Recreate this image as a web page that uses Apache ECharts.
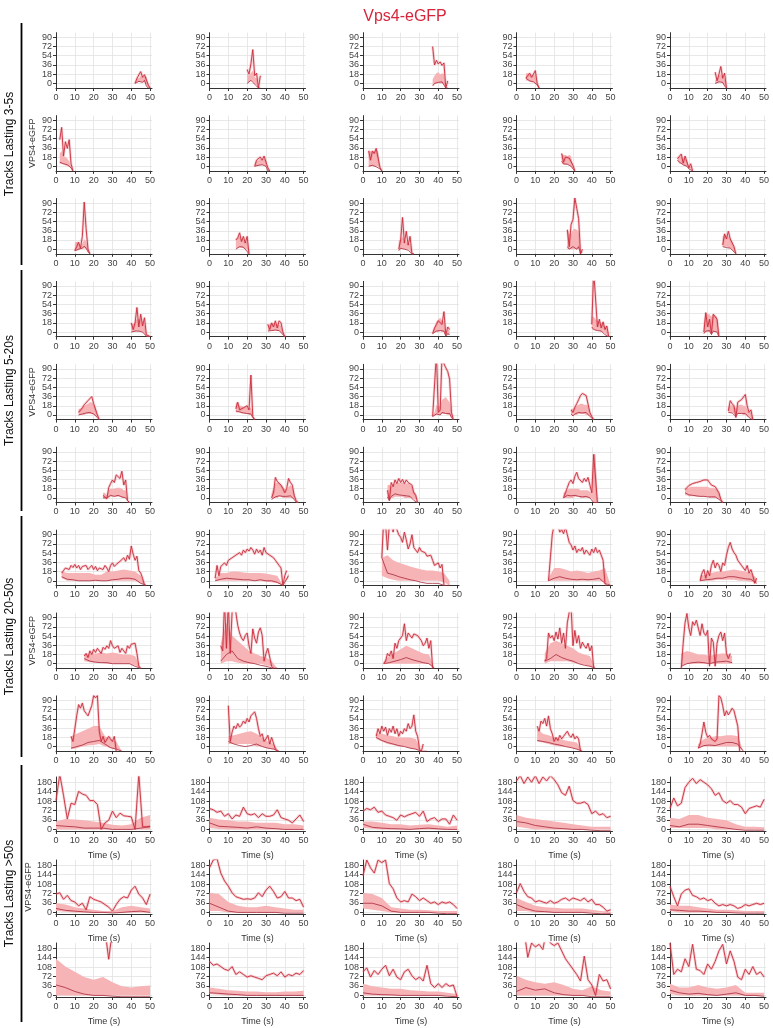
<!DOCTYPE html>
<html>
<head>
<meta charset="utf-8">
<script src="https://cdn.jsdelivr.net/npm/echarts@6/dist/echarts.min.js"></script>
<style>
html, body { margin: 0; padding: 0; background: #fff; }
#chart { width: 773px; height: 1028px; }
</style>
</head>
<body>
<div id="chart"></div>
<script>
// one entry per panel, row by row (5 panels a row, 12 rows)
var trackStart = [
	42, 20, 37, 5, 24,
	2, 24, 3, 24, 4,
	10, 14, 19, 27, 28,
	40, 31, 37, 40, 18,
	12, 14, 37, 29, 31,
	25, 33, 13, 25, 8,
	3, 3, 10, 17, 16,
	15, 6, 11, 15, 6,
	8, 10, 7, 11, 15,
	0, 0, 0, 0, 0,
	0, 0, 0, 0, 0,
	0, 0, 0, 0, 0
];
// sampling interval (s) per row group: red trace, band + low trace
var redStep = [1, 1, 1, 2];
var bandStep = [1, 1, 3, 5];

var redTrace = [
	[0,10,10,23,12,17,20,-3,-9],
	[27,18,38,66,15,20,-9,15],
	[72,36,45,38,42,35,40,-9,5],
	[10,15,20,12,18,25,0,-9],
	[22,5,18,33,10,20,-9],
	[52,76,20,48,35,52,5,-9],
	[0,12,15,18,12,20,22,-3,-9],
	[30,12,30,25,35,33,-2,-9],
	[25,8,18,15,16,18,2,-9],
	[15,12,24,6,20,20,-3,5,-9],
	[-3,5,14,2,25,92,40,0,-9],
	[18,22,32,15,25,12,25,-9],
	[0,18,62,12,35,8,25,-9,-9],
	[38,5,48,58,100,80,60,-9,0],
	[8,30,20,35,20,22,5,-9],
	[18,5,18,48,10,35,12,28,-5,-5,-9],
	[15,5,18,10,22,8,22,18,0,-9],
	[-3,8,15,22,25,15,40,-5,10,5],
	[15,120,120,10,25,8,20,5,12,-9],
	[0,38,10,25,-3,35,30,25,-9],
	[5,2,14,20,18,28,30,36,22,20,0,-9],
	[12,25,10,12,14,12,18,10,78,-3,-9],
	[-3,0,120,5,10,120,100,92,85,70,5,-9],
	[10,5,15,22,30,38,42,40,38,36,5,-3,-9],
	[8,28,22,18,-5,25,22,30,28,40,18,5,10,-9],
	[5,8,-2,20,28,35,30,45,48,38,52,25,35,-5,-9],
	[0,10,40,32,30,25,18,10,18,38,30,25,5,-5,-9],
	[15,-5,30,22,35,28,38,30,36,28,35,30,32,25,10,5,-9],
	[0,10,20,30,35,28,42,50,38,35,30,38,32,40,25,10,85,85,-9],
	[16,20,24,22,28,25,30,28,32,30,35,33,35,30,25,28,22,25,10,-3,-9],
	[15,20,25,28,22,30,26,32,25,30,22,28,25,30,22,26,30,22,28,20,25,28,22,30,25,18,30,35,28,32,30,38,35,45,38,50,42,68,52,40,48,20,15,5,-9],
	[5,30,10,28,25,35,30,40,38,45,42,50,48,55,50,60,55,62,58,65,60,52,62,55,60,50,65,55,58,50,52,45,40,42,30,25,-9,10,20],
	[45,120,110,60,110,120,95,120,100,90,85,75,95,80,62,72,90,65,60,55,65,58,60,55,48,45,50,40,30,28,35,25,32,-9],
	[0,45,90,110,105,110,95,100,92,105,90,75,70,60,68,55,62,58,65,52,60,55,50,62,55,65,55,60,50,40,-5,-9],
	[0,15,22,5,20,10,30,40,25,35,30,18,35,30,50,65,75,62,55,50,40,35,30,25,20,30,15,22,10,-5,5],
	[15,20,12,25,18,28,22,30,25,20,32,28,35,30,45,35,30,28,35,22,30,25,20,35,30,38,35,40,20,-5,-9],
	[35,25,120,30,120,20,100,110,100,75,60,50,45,55,60,35,20,68,50,40,62,70,55,5,20,30,28,-5,-9],
	[0,5,20,15,25,10,40,30,45,50,55,78,45,60,55,50,58,60,55,52,45,35,40,50,30,45,-9],
	[5,10,60,50,55,45,62,48,70,40,60,30,80,100,110,35,65,40,55,30,42,35,30,40,25,35,-9],
	[-9,40,80,98,70,55,82,75,85,70,55,78,60,55,65,-5,50,42,-5,40,55,62,45,60,20,10,20],
	[20,10,35,60,82,75,85,70,65,60,70,80,100,95,100,30,10,20,8,5,20,15,10,20,-9],
	[80,10,28,40,35,45,38,42,50,45,55,48,60,62,68,55,35,20,25,10,15,22,5,18,15,-5,-9],
	[20,35,25,40,30,38,22,35,28,40,25,35,20,30,25,35,30,45,35,40,62,30,20,-5,-9,5],
	[40,30,50,45,55,40,60,35,25,10,18,12,22,15,20,18,30,22,18,25,15,20,15,-9],
	[-3,5,25,48,28,18,22,15,18,10,15,100,95,80,60,70,62,68,75,70,72,40,-9],
	[110,210,130,40,100,95,145,135,130,110,110,95,0,25,35,70,45,62,52,50,48,0,210,10,10,12],
	[80,75,65,70,50,60,40,55,50,85,60,55,60,45,60,50,50,55,75,45,40,35,25,40,55,30],
	[70,80,75,85,65,70,55,50,45,35,55,48,55,60,65,50,70,30,40,45,30,40,40,20,55,35],
	[185,205,175,200,180,205,175,200,185,205,190,170,140,130,165,110,100,100,105,95,60,70,55,60,45,50],
	[80,120,90,100,160,180,195,175,190,180,170,155,130,140,110,100,110,95,95,85,60,80,85,90,85,115],
	[70,75,50,65,45,40,25,35,10,60,50,45,40,30,20,5,30,50,60,55,85,100,70,55,30,70],
	[170,200,205,150,120,100,75,60,55,50,52,50,55,75,60,85,100,80,55,60,80,55,55,45,50,20],
	[140,200,170,150,200,190,200,110,90,55,40,45,40,70,60,45,55,45,35,40,30,40,35,40,30,15],
	[75,110,80,60,55,40,45,40,35,45,35,40,50,55,45,55,50,45,55,40,50,30,30,20,5,10],
	[100,60,25,70,85,90,65,60,50,55,45,50,35,25,30,25,30,25,15,20,30,25,30,35,30,35],
	[250,250,250,250,250,250,250,250,250,250,250,250,250,250,138,250,250,250,250,250,250,250,250,250,250,250],
	[130,115,120,110,100,95,110,80,90,80,70,75,70,65,60,75,80,85,75,90,70,80,75,85,80,95],
	[90,105,70,95,80,100,115,75,100,70,60,90,100,75,60,70,55,115,45,30,45,30,45,35,40,-5],
	[250,250,250,145,200,185,195,175,250,200,190,200,170,140,120,100,80,55,150,60,40,0,80,55,60,25],
	[200,80,100,90,140,110,195,100,95,80,120,100,130,170,195,120,170,130,70,60,100,80,110,80,90,70]
];

var bandUpper = [
	[0,10,10,15,12,14,14,-3,-9],
	[20,15,20,25,12,10,-9,-9],
	[8,15,20,22,18,20,18,-9,-9],
	[20,20,18,16,18,15,0,-9],
	[5,10,15,18,12,10,-9],
	[25,30,20,18,15,10,0,-9],
	[0,10,12,15,12,15,12,-5,-9],
	[32,30,28,30,32,30,-2,-9],
	[25,22,22,20,22,20,0,-9],
	[18,18,20,15,15,12,0,0,-9],
	[14,14,12,5,10,20,15,0,-9],
	[20,22,25,20,20,15,15,-9],
	[18,18,25,18,15,10,10,-9,-9],
	[40,30,30,38,40,38,35,-9,-9],
	[25,28,25,25,20,15,5,-9],
	[18,15,20,25,25,25,20,15,-5,-5,-9],
	[15,15,18,18,18,15,15,12,0,-9],
	[0,8,20,25,28,22,20,-5,5,5],
	[30,30,25,22,20,18,15,12,10,-9],
	[15,38,35,35,30,35,32,30,-9],
	[12,12,15,18,20,22,25,25,20,15,0,-9],
	[25,22,18,18,15,15,15,12,15,-3,-9],
	[0,5,20,15,20,30,32,35,30,25,5,-9],
	[12,12,15,18,20,22,22,20,20,18,5,-3,-9],
	[15,18,20,18,12,18,20,20,18,18,12,5,5,-9],
	[10,10,5,15,18,18,18,20,20,20,18,15,15,-5,-9],
	[10,18,28,30,28,25,22,18,15,22,25,20,8,-5,-9],
	[25,25,22,25,28,28,30,28,30,28,28,28,25,22,12,10,-9],
	[10,12,15,18,18,18,18,18,18,15,15,15,15,15,12,10,85,85,-9],
	[18,20,20,22,22,22,22,22,22,22,22,22,22,20,20,20,18,18,10,0,-9],
	[18,15,15,15,15,15,12,12,18,18,20,22,20,18,10,-9],
	[5,15,15,18,18,16,15,15,15,14,12,10,-9,15],
	[45,50,40,35,32,28,25,22,20,20,18,15,0],
	[5,25,25,22,18,20,18,15,18,20,25,-9],
	[10,12,15,18,18,20,22,20,18,15,5],
	[18,20,20,22,20,22,20,18,18,15,-9],
	[40,80,55,45,35,25,20,15,12,5,-9],
	[5,15,22,28,35,30,25,20,18,-9],
	[20,40,45,40,35,30,22,18,15,-9],
	[20,25,22,18,18,15,18,20,20,15],
	[20,25,30,35,40,40,20,15,10,-9],
	[20,22,25,28,30,25,18,10,5,-9],
	[25,25,22,20,18,18,18,15,-9,-9],
	[35,25,22,18,15,12,10,8,-9],
	[5,15,18,20,20,22,22,20,-9],
	[30,40,38,35,30,25,18,15,20,45,55],
	[45,38,35,30,30,25,25,25,20,20,15],
	[30,30,25,20,20,15,18,20,15,10,15],
	[55,45,40,35,30,25,20,15,10,10,10],
	[45,40,55,55,45,40,35,20,10,10,8],
	[35,30,20,15,10,5,5,20,25,20,15],
	[75,70,40,25,20,20,25,20,15,10,10],
	[75,70,55,20,15,10,10,8,5,5,5],
	[55,40,25,20,18,15,15,15,10,5,3],
	[30,25,25,20,15,10,10,8,5,5,5],
	[140,110,90,70,60,70,50,35,30,35,38],
	[30,25,20,18,15,15,12,12,15,15,18],
	[45,35,30,25,25,20,18,15,15,10,5],
	[75,60,50,45,50,40,25,20,35,20,15],
	[45,30,30,40,30,25,30,40,10,10,10]
];

var bandLower = [
	[0,2,2,3,2,2,-2,-8,-9],
	[0,2,5,3,0,-3,-9,-9],
	[-4,-2,0,1,0,0,-2,-9,-9],
	[5,5,3,2,2,0,-5,-9],
	[0,0,2,2,0,-3,-9],
	[5,5,3,2,0,0,-5,-9],
	[0,0,0,2,2,2,0,-8,-9],
	[0,0,0,0,0,0,-5,-9],
	[5,3,3,3,3,0,-5,-9],
	[10,5,5,2,0,0,-5,-5,-9],
	[-3,-3,-2,0,0,2,0,-5,-9],
	[2,2,3,3,2,0,0,-9],
	[-2,0,2,0,0,0,-3,-9,-9],
	[0,0,0,0,0,0,0,-9,-9],
	[5,5,5,3,2,0,-5,-9],
	[0,0,0,2,0,2,0,-3,-8,-8,-9],
	[2,2,2,2,3,2,2,0,-5,-9],
	[-3,0,0,0,2,0,0,-8,-5,-5],
	[5,5,3,2,2,0,0,-3,-5,-9],
	[-3,0,0,0,-3,0,0,0,-9],
	[0,0,0,0,2,2,2,2,0,-2,-5,-9],
	[5,5,5,3,3,2,2,0,0,-5,-9],
	[-3,-2,0,0,0,2,2,2,0,0,-5,-9],
	[0,0,0,0,2,2,2,2,0,0,-3,-5,-9],
	[5,5,5,3,0,2,2,2,0,0,-3,-5,-5,-9],
	[0,0,0,0,2,2,2,2,2,2,0,0,0,-5,-9],
	[-3,0,0,0,2,2,0,0,0,0,0,0,-3,-8,-9],
	[0,-3,0,0,2,2,2,2,2,0,0,0,0,0,-3,-3,-9],
	[0,0,0,0,0,0,2,2,2,0,0,0,0,0,0,0,-9,-9,-9],
	[5,5,3,3,3,3,2,2,2,2,2,2,2,0,0,0,0,0,-3,-5,-9],
	[5,0,0,0,0,0,0,0,0,0,0,0,0,0,-5,-9],
	[0,0,0,0,0,0,0,0,0,-2,-3,-5,-9,5],
	[10,5,2,0,0,0,0,0,0,0,0,-3,-9],
	[0,0,0,0,0,0,0,0,0,0,-3,-9],
	[0,0,0,2,2,2,2,0,0,-2,-5],
	[5,3,2,2,0,0,0,0,0,-3,-9],
	[0,5,5,2,0,0,0,0,-3,-5,-9],
	[0,0,0,0,0,0,0,0,0,-9],
	[0,5,5,5,5,2,0,-2,-5,-9],
	[-5,0,0,0,0,0,0,0,0,0],
	[-5,-3,0,2,3,5,0,-3,-5,-9],
	[5,5,5,5,5,0,0,-3,-5,-9],
	[15,10,5,3,0,0,-3,-5,-9,-9],
	[10,8,5,2,0,0,-2,-5,-9],
	[-3,0,0,0,0,0,0,0,-9],
	[0,0,0,0,0,0,0,0,0,0,0],
	[5,2,0,0,0,0,0,0,0,0,0],
	[5,3,0,0,0,0,0,0,0,0,0],
	[10,5,0,0,0,0,0,0,0,0,0],
	[5,5,5,5,5,0,0,0,0,0,0],
	[5,3,0,0,0,0,0,0,0,0,0],
	[5,5,0,0,0,0,0,0,0,0,0],
	[15,10,5,0,0,0,0,0,0,-3,-3],
	[5,5,0,0,0,0,0,0,0,0,-5],
	[5,0,0,0,0,0,0,0,0,0,0],
	[0,0,0,0,0,0,0,0,0,0,0],
	[5,3,0,0,0,0,0,0,0,0,0],
	[0,0,0,0,0,0,0,0,0,0,-5],
	[0,0,0,0,0,0,0,0,0,0,0],
	[5,0,0,0,0,0,0,0,0,0,0]
];

var lowTrace = [
	[0,2,4,6,2,6,-5,-9,-9],
	[0,3,6,2,0,-5,-9,-9],
	[-5,0,3,2,0,3,0,-9,-9],
	[10,8,5,4,3,2,-3,-9],
	[0,2,3,4,2,-5,-9],
	[8,10,5,5,3,2,-3,-9],
	[0,2,2,3,3,2,0,-9,-9],
	[0,-2,2,0,-1,2,-5,-9],
	[10,5,3,4,5,0,-5,-9],
	[12,8,5,3,2,0,-5,-3,-9],
	[-3,-1,0,-2,2,6,2,-5,-9],
	[0,3,5,3,4,0,0,-9],
	[-3,2,5,0,3,-2,-5,-9,-9],
	[5,0,2,5,3,0,5,-9,-5],
	[5,5,3,4,2,0,-5,-9],
	[0,0,2,5,2,3,0,-2,-8,-8,-9],
	[2,3,3,2,4,3,3,0,-5,-9],
	[-3,0,2,0,3,0,2,-8,-3,-5],
	[10,5,5,3,5,2,0,-5,-5,-9],
	[-3,2,0,3,-5,2,0,0,-9],
	[0,-2,2,3,4,3,5,4,2,0,-5,-9],
	[8,8,6,5,4,3,3,2,2,-5,-9],
	[-3,-2,2,0,0,5,5,3,2,3,-5,-9],
	[2,-2,2,3,5,5,4,3,5,2,-3,-5,-9],
	[5,5,4,3,-3,3,4,3,2,3,0,-5,-3,-9],
	[0,2,0,2,5,4,3,4,5,3,2,4,0,-5,-9],
	[-3,0,2,3,4,5,3,2,3,2,4,2,-3,-8,-9],
	[2,-5,3,5,8,5,6,4,5,3,4,5,3,0,-5,-5,-9],
	[0,3,5,5,4,5,5,4,3,4,2,3,3,2,0,0,-9,-9,-9],
	[10,8,6,5,5,4,4,3,3,3,3,3,2,3,2,2,2,1,-3,-5,-9],
	[8,3,2,0,0,0,1,0,0,2,3,5,5,3,-5,-9],
	[0,3,5,4,3,2,2,0,2,0,0,-3,-9,10],
	[45,15,12,8,5,2,0,-3,-5,-5,-5,-9,-9],
	[0,5,8,5,3,2,3,2,3,5,-5,-9],
	[0,2,3,5,5,8,8,6,4,3,-5],
	[10,5,3,2,2,0,0,0,0,-5,-9],
	[5,18,25,10,5,2,0,-3,-5,-8,-9],
	[0,2,5,8,12,8,5,2,0,-9],
	[5,10,18,12,8,5,0,-3,-5,-9],
	[-5,0,2,3,2,0,3,4,5,2],
	[-3,0,3,8,10,12,5,-2,-5,-9],
	[10,5,2,0,2,5,0,-3,-5,-9],
	[18,12,8,5,2,0,-3,-5,-9,-9],
	[12,10,8,5,3,0,-2,-5,-9],
	[-3,2,3,2,5,8,8,5,-9],
	[15,12,10,5,5,5,0,0,0,5,10],
	[25,12,10,8,5,10,5,3,0,0,0],
	[20,8,5,3,2,0,3,5,2,0,0],
	[30,25,15,10,5,3,0,0,-3,-5,-5],
	[15,10,20,20,15,10,5,0,-3,-3,-3],
	[15,8,5,2,0,0,-2,0,3,5,0],
	[35,20,5,0,0,0,0,0,-3,-3,-3],
	[35,35,25,5,0,0,0,0,-3,-5,-5],
	[30,15,5,3,0,0,0,0,-3,-5,-5],
	[10,8,5,5,3,0,0,-2,-3,-3,-3],
	[40,30,15,5,0,0,-3,-5,-5,-5,-5],
	[10,8,5,3,0,0,0,0,0,0,0],
	[10,5,3,2,0,0,0,0,0,-3,-5],
	[15,30,20,25,10,3,0,0,-5,-5,-5],
	[20,10,5,8,3,0,5,10,0,0,-3]
];

var xTicks = [0, 10, 20, 30, 40, 50];
var yTicksShort = [0, 18, 36, 54, 72, 90];
var yTicksLong = [0, 36, 72, 108, 144, 180];
var groupLabels = ['Tracks Lasting 3-5s', 'Tracks Lasting 5-20s', 'Tracks Lasting 20-50s', 'Tracks Lasting >50s'];

var FONT = '"Liberation Sans", Arial, sans-serif';
var colLeft = [56, 209.5, 363, 516.5, 670];

function pairs(t0, step, vals) {
	var out = [];
	for (var i = 0; i < vals.length; i++) out.push([t0 + i * step, vals[i]]);
	return out;
}

// band drawn as one polygon through the panel's own axes
function bandRenderer(p, step) {
	return function (params, api) {
		if (params.dataIndex !== 0) return;
		var t0 = trackStart[p], pts = [], i;
		for (i = 0; i < bandUpper[p].length; i++) pts.push(api.coord([t0 + i * step, bandUpper[p][i]]));
		for (i = bandLower[p].length - 1; i >= 0; i--) pts.push(api.coord([t0 + i * step, bandLower[p][i]]));
		return { type: 'polygon', shape: { points: pts }, style: { fill: '#f6b4b7' } };
	};
}

function buildOption(useCustomTicks) {
	var grids = [], xAxes = [], yAxes = [], series = [];
	for (var p = 0; p < 60; p++) {
		var row = Math.floor(p / 5), col = p % 5, grp = Math.floor(row / 3);
		var big = grp === 3;
		var top = big ? 777 + 83 * (row - 9) : 32.7 + 82.9 * row;
		grids.push({ left: colLeft[col], top: top, width: 96, height: big ? 54 : 55.3 });

		var xa = {
			gridIndex: p, type: 'value', min: 0, max: 51,
			name: big ? 'Time (s)' : '', nameLocation: 'middle', nameGap: 20,
			nameTextStyle: { fontSize: 9, color: '#333', fontFamily: FONT },
			axisLine: { show: true, onZero: false, lineStyle: { color: '#333', width: 1 } },
			axisTick: { show: true, length: 3, lineStyle: { color: '#333' } },
			axisLabel: { fontSize: 9, color: '#444', margin: 5, fontFamily: FONT },
			splitLine: { show: true, lineStyle: { color: '#e2e2e2', width: 0.8 } }
		};
		var yt = big ? yTicksLong : yTicksShort;
		var ya = {
			gridIndex: p, type: 'value', min: big ? -6 : -9, max: big ? 200 : 99,
			name: (col === 0 && row % 3 === 1) ? 'VPS4-eGFP' : '', nameLocation: 'middle', nameGap: 19,
			nameTextStyle: { fontSize: 9, color: '#333', fontFamily: FONT },
			axisLine: { show: true, onZero: false, lineStyle: { color: '#333', width: 1 } },
			axisTick: { show: true, length: 3, lineStyle: { color: '#333' } },
			axisLabel: { fontSize: 9, color: '#444', margin: 4, fontFamily: FONT },
			splitLine: { show: true, lineStyle: { color: '#e2e2e2', width: 0.8 } }
		};
		if (useCustomTicks) {
			xa.axisTick.customValues = xTicks; xa.axisLabel.customValues = xTicks;
			ya.axisTick.customValues = yt; ya.axisLabel.customValues = yt;
		} else {
			xa.interval = 10; xa.axisLabel.showMaxLabel = false;
			ya.interval = big ? 36 : 18; ya.axisLabel.showMinLabel = false; ya.axisLabel.showMaxLabel = false;
		}
		xAxes.push(xa); yAxes.push(ya);

		var t0 = trackStart[p];
		var common = { xAxisIndex: p, yAxisIndex: p, silent: true, animation: false };
		series.push(Object.assign({}, common, {
			type: 'custom', clip: true, z: 2,
			data: [[t0, 0]], renderItem: bandRenderer(p, bandStep[grp])
		}));
		series.push(Object.assign({}, common, {
			type: 'line', symbol: 'none', z: 3,
			data: pairs(t0, bandStep[grp], lowTrace[p]),
			lineStyle: { width: 0.8, color: '#a82637' }
		}));
		series.push(Object.assign({}, common, {
			type: 'line', symbol: 'none', z: 4,
			data: pairs(t0, redStep[grp], redTrace[p]),
			lineStyle: { width: 2.6, color: 'rgba(228,110,118,0.32)' }
		}));
		series.push(Object.assign({}, common, {
			type: 'line', symbol: 'none', z: 5,
			data: pairs(t0, redStep[grp], redTrace[p]),
			lineStyle: { width: 0.9, color: '#c92b3b' }
		}));
	}

	var groupSpan = [[23, 265], [270, 511], [516, 757], [765, 1022]];
	var graphics = [{
		type: 'text', x: 405, y: 17,
		style: { text: 'Vps4-eGFP', fill: '#d7263c', font: '16px ' + FONT, align: 'center', verticalAlign: 'middle' }
	}];
	groupSpan.forEach(function (s, g) {
		graphics.push({
			type: 'line', shape: { x1: 21.5, y1: s[0], x2: 21.5, y2: s[1] },
			style: { stroke: '#000', lineWidth: 1.8 }
		});
		graphics.push({
			type: 'text', x: 10, y: (s[0] + s[1]) / 2, rotation: Math.PI / 2,
			style: { text: groupLabels[g], fill: '#111', font: '12px ' + FONT, align: 'center', verticalAlign: 'middle' }
		});
	});

	return {
		animation: false,
		grid: grids,
		xAxis: xAxes,
		yAxis: yAxes,
		series: series,
		graphic: graphics
	};
}

var el = document.getElementById('chart');
var chart = null;
var attempts = [true, false];
for (var a = 0; a < attempts.length; a++) {
	try {
		if (chart) chart.dispose();
		chart = echarts.init(el);
		chart.setOption(buildOption(attempts[a]));
		break;
	} catch (e) {
		console.error('attempt ' + a + ' failed: ' + e.message);
	}
}
</script>
</body>
</html>
